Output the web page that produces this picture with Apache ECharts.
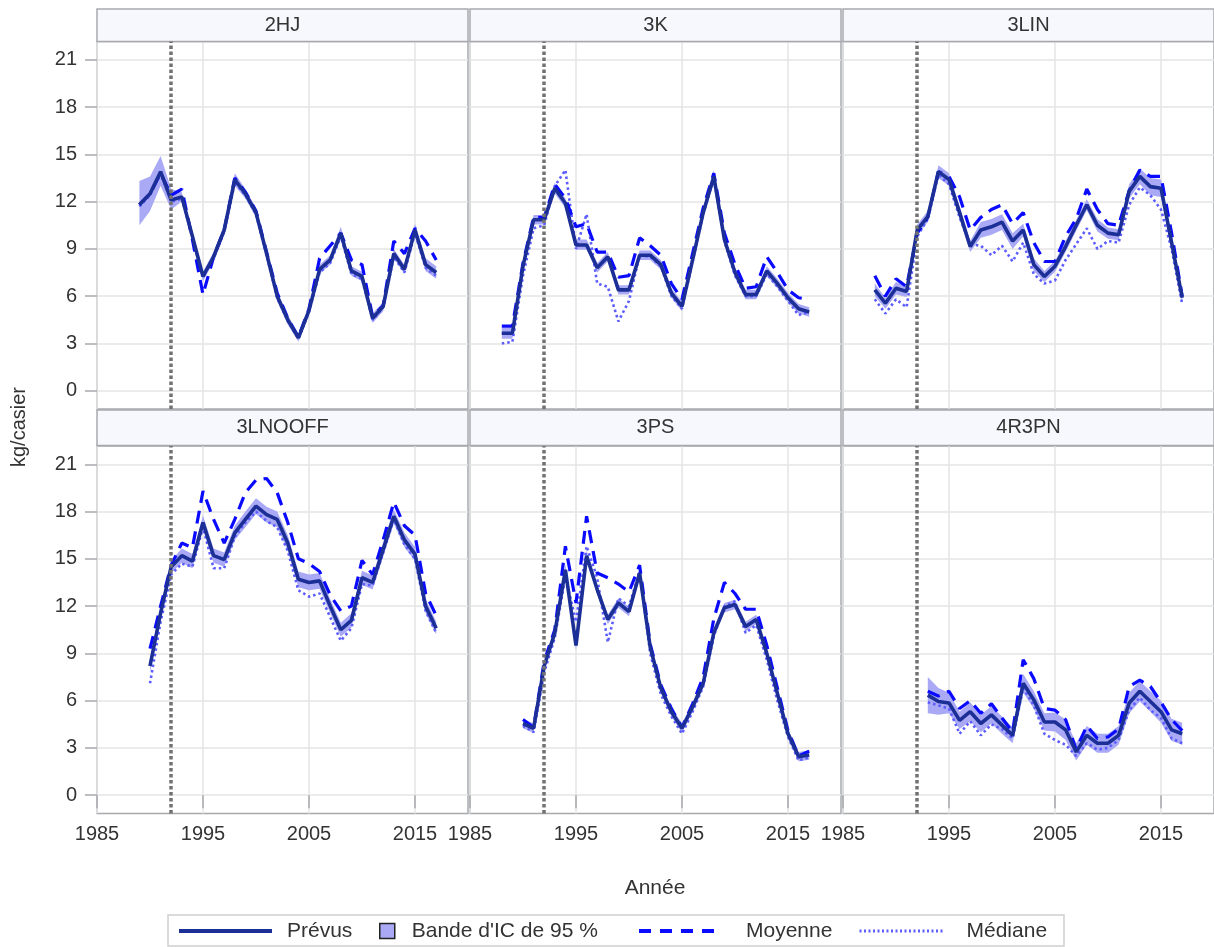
<!DOCTYPE html>
<html>
<head>
<meta charset="utf-8">
<script src="https://cdn.jsdelivr.net/npm/echarts@6/dist/echarts.min.js"></script>
<style>
  html, body { margin: 0; padding: 0; background: #ffffff; }
  #chart { width: 1214px; height: 947px; }
</style>
</head>
<body>
<div id="chart"></div>
<script>
// ---- Data: catch rate (kg/casier) by year, one block per division ----
const panelNames = ['2HJ', '3K', '3LIN', '3LNOOFF', '3PS', '4R3PN'];

const years2HJ = [1989,1990,1991,1992,1993,1994,1995,1996,1997,1998,1999,2000,2001,2002,2003,2004,2005,2006,2007,2008,2009,2010,2011,2012,2013,2014,2015,2016,2017];
const prev2HJ  = [11.8,12.5,13.9,12.1,12.3,9.8,7.25,8.5,10.2,13.4,12.5,11.3,8.7,6.0,4.5,3.35,5.1,7.7,8.3,10.0,7.6,7.25,4.6,5.35,8.7,7.7,10.2,8.0,7.5];
const low2HJ   = [10.5,11.4,13.0,11.5,12.0,9.5,6.95,8.2,9.9,13.0,12.2,11.0,8.4,5.7,4.2,3.1,4.8,7.4,8.0,9.6,7.3,6.95,4.3,5.05,8.4,7.4,9.8,7.6,7.1];
const high2HJ  = [13.3,13.6,14.9,12.8,12.6,10.1,7.55,8.8,10.5,13.8,12.8,11.6,9.0,6.3,4.8,3.6,5.4,8.0,8.6,10.4,7.9,7.55,4.9,5.65,9.0,8.0,10.6,8.4,7.9];
const mean2HJ  = [11.8,12.5,13.8,12.4,12.8,9.6,6.1,8.5,10.2,13.5,12.6,11.4,8.8,6.2,4.6,3.4,5.2,8.4,9.2,10.0,8.3,8.0,4.7,5.4,9.5,8.7,10.3,9.5,8.3];
const med2HJ   = [11.7,12.4,13.8,12.0,12.2,9.7,7.2,8.4,10.1,13.2,12.4,11.2,8.6,5.9,4.4,3.3,5.0,7.5,8.1,9.8,7.4,7.1,4.5,5.3,8.5,7.5,10.0,7.8,7.3];

const years3K = [1988,1989,1990,1991,1992,1993,1994,1995,1996,1997,1998,1999,2000,2001,2002,2003,2004,2005,2006,2007,2008,2009,2010,2011,2012,2013,2014,2015,2016,2017];
const prev3K  = [3.65,3.65,7.9,10.85,10.85,12.85,11.9,9.25,9.25,7.8,8.5,6.4,6.4,8.6,8.6,8.0,6.2,5.35,8.3,11.3,13.6,9.6,7.5,6.1,6.1,7.6,6.8,5.9,5.2,5.0];
const low3K   = [3.3,3.3,7.6,10.55,10.55,12.5,11.6,8.95,8.95,7.5,8.2,6.1,6.1,8.3,8.3,7.7,5.9,5.05,8.0,11.0,13.2,9.3,7.2,5.8,5.8,7.3,6.5,5.6,4.9,4.7];
const high3K  = [4.0,4.0,8.2,11.15,11.15,13.2,12.2,9.6,9.6,8.1,8.8,6.7,6.7,8.9,8.9,8.3,6.5,5.65,8.6,11.6,14.0,9.9,7.8,6.4,6.4,7.9,7.1,6.2,5.5,5.3];
const mean3K  = [4.1,4.1,8.1,11.0,11.0,13.1,12.2,10.4,10.6,8.8,8.8,7.2,7.3,9.7,9.2,8.6,6.8,5.8,8.7,11.6,13.8,10.0,8.0,6.5,6.6,8.5,7.5,6.4,5.9,5.8];
const med3K   = [3.0,3.1,7.3,10.3,10.5,13.0,14.0,9.0,11.2,6.8,6.6,4.4,5.7,8.6,8.5,7.9,6.0,5.2,8.2,11.2,13.5,9.5,7.3,6.0,6.0,7.4,6.6,5.7,4.8,5.0];

const years3LIN = [1988,1989,1990,1991,1992,1993,1994,1995,1996,1997,1998,1999,2000,2001,2002,2003,2004,2005,2006,2007,2008,2009,2010,2011,2012,2013,2014,2015,2016,2017];
const prev3LIN  = [6.4,5.55,6.5,6.3,10.2,11.05,13.9,13.4,11.3,9.15,10.2,10.4,10.7,9.5,10.2,8.0,7.25,7.9,9.15,10.5,11.8,10.5,10.0,9.9,12.65,13.6,12.95,12.85,9.4,5.9];
const low3LIN   = [6.0,5.2,6.1,5.95,9.85,10.7,13.5,13.0,10.9,8.8,9.7,9.9,10.2,9.0,9.8,7.6,6.9,7.55,8.8,10.15,11.45,10.1,9.65,9.55,12.2,13.1,12.4,12.3,9.0,5.55];
const high3LIN  = [6.8,5.9,6.9,6.65,10.55,11.4,14.3,13.8,11.7,9.5,10.7,10.9,11.2,10.0,10.6,8.4,7.6,8.25,9.5,10.85,12.15,10.9,10.35,10.25,13.1,14.1,13.5,13.4,9.8,6.25];
const mean3LIN  = [7.3,6.0,7.1,6.6,10.0,11.0,13.9,13.6,12.3,10.2,11.0,11.5,11.8,10.6,11.3,9.4,8.2,8.2,9.8,10.9,12.8,11.5,10.6,10.5,12.7,14.0,13.6,13.6,10.0,6.0];
const med3LIN   = [5.8,4.9,5.8,5.3,9.8,10.9,13.7,13.1,11.0,9.3,9.2,8.6,9.2,8.2,9.4,7.4,6.8,7.0,8.3,9.3,10.3,9.0,9.5,9.4,11.8,12.9,12.4,11.5,9.0,5.5];

const years3LNOOFF = [1990,1991,1992,1993,1994,1995,1996,1997,1998,1999,2000,2001,2002,2003,2004,2005,2006,2007,2008,2009,2010,2011,2012,2013,2014,2015,2016,2017];
const prev3LNOOFF  = [8.2,11.55,14.5,15.2,14.85,17.3,15.2,14.95,16.65,17.5,18.35,17.8,17.5,16.0,13.7,13.5,13.6,12.0,10.5,11.1,13.8,13.5,15.6,17.7,16.2,15.3,12.0,10.6];
const low3LNOOFF   = [7.8,11.15,14.1,14.75,14.4,16.85,14.75,14.5,16.2,17.0,17.85,17.3,17.0,15.5,13.2,13.0,13.1,11.55,10.05,10.65,13.35,13.05,15.15,17.25,15.75,14.85,11.55,10.2];
const high3LNOOFF  = [8.6,11.95,14.9,15.65,15.3,17.75,15.65,15.4,17.1,18.0,18.85,18.3,18.0,16.5,14.2,14.0,14.1,12.45,10.95,11.55,14.25,13.95,16.05,18.15,16.65,15.75,12.45,11.0];
const mean3LNOOFF  = [9.3,12.0,14.6,16.0,15.7,19.3,17.5,16.0,17.5,19.2,20.0,20.1,19.2,17.3,15.0,14.7,14.2,12.7,11.7,12.0,14.9,14.0,16.2,18.6,17.1,16.5,12.8,11.4];
const med3LNOOFF   = [7.1,11.0,14.0,14.7,14.5,17.0,14.4,14.4,16.4,17.3,18.0,17.4,17.0,15.5,13.0,12.6,12.8,11.3,9.8,10.6,13.4,13.3,15.4,17.5,15.9,15.0,11.7,10.3];

const years3PS = [1990,1991,1992,1993,1994,1995,1996,1997,1998,1999,2000,2001,2002,2003,2004,2005,2006,2007,2008,2009,2010,2011,2012,2013,2014,2015,2016,2017];
const prev3PS  = [4.55,4.25,8.2,10.3,14.3,9.5,15.2,13.05,11.15,12.2,11.65,14.1,9.4,6.8,5.3,4.25,5.6,7.1,10.3,11.9,12.1,10.7,11.15,9.0,6.45,3.9,2.45,2.55];
const low3PS   = [4.25,3.95,7.9,10.0,13.95,9.2,14.85,12.75,10.85,11.9,11.35,13.8,9.1,6.5,5.0,3.95,5.3,6.8,10.0,11.6,11.8,10.4,10.85,8.7,6.15,3.6,2.15,2.25];
const high3PS  = [4.85,4.55,8.5,10.6,14.65,9.8,15.55,13.35,11.45,12.5,11.95,14.4,9.7,7.1,5.6,4.55,5.9,7.4,10.6,12.2,12.4,11.0,11.45,9.3,6.75,4.2,2.75,2.85];
const mean3PS  = [4.8,4.3,8.5,10.5,15.8,12.2,17.7,14.1,13.8,13.4,12.9,14.6,9.6,7.0,5.5,4.3,5.8,7.5,11.2,13.5,12.8,11.8,11.8,9.5,6.8,4.1,2.5,2.8];
const med3PS   = [4.4,4.0,7.8,10.0,13.9,11.0,15.8,13.8,9.7,12.5,12.0,14.2,9.0,6.4,5.0,3.9,5.3,6.9,10.1,12.0,12.3,10.3,10.8,8.6,6.0,3.7,2.2,2.4];

const years4R3PN = [1993,1994,1995,1996,1997,1998,1999,2000,2001,2002,2003,2004,2005,2006,2007,2008,2009,2010,2011,2012,2013,2014,2015,2016,2017];
const prev4R3PN  = [6.35,5.95,5.85,4.75,5.3,4.55,5.1,4.45,3.8,7.1,6.05,4.65,4.65,4.15,2.75,3.8,3.3,3.3,3.8,5.85,6.6,5.95,5.3,4.15,3.9];
const low4R3PN   = [5.2,5.1,5.2,4.2,4.7,4.0,4.55,3.9,3.3,6.5,5.5,4.1,4.05,3.5,2.2,3.2,2.7,2.7,3.2,5.2,5.95,5.3,4.6,3.45,3.2];
const high4R3PN  = [7.5,6.8,6.5,5.3,5.9,5.1,5.65,5.0,4.3,7.7,6.6,5.2,5.25,4.8,3.3,4.4,3.9,3.9,4.4,6.5,7.25,6.6,6.0,4.85,4.6];
const mean4R3PN  = [6.6,6.3,6.6,5.5,6.0,5.2,5.8,4.9,4.0,8.6,7.4,5.5,5.4,4.8,2.9,4.4,3.6,3.7,4.2,6.9,7.3,6.9,5.9,4.8,4.1];
const med4R3PN   = [5.9,5.7,5.5,3.9,4.7,3.8,4.5,4.2,3.6,6.8,5.7,3.9,3.5,3.2,2.5,3.3,2.9,3.0,3.5,5.4,6.2,5.4,4.9,3.6,3.3];

// Axis ticks and reference year
const xTickValues = [1985, 1995, 2005, 2015];
const yTickValues = [0, 3, 6, 9, 12, 15, 18, 21];
const referenceYear = 1992;

// Legend / axis texts
const NAME_PRED = 'Prévus';
const NAME_BAND = "Bande d'IC de 95 %";
const NAME_MEAN = 'Moyenne';
const NAME_MED  = 'Médiane';
const X_TITLE = 'Année';
const Y_TITLE = 'kg/casier';

const panels = [
  { years: years2HJ,     prev: prev2HJ,     low: low2HJ,     high: high2HJ,     mean: mean2HJ,     med: med2HJ },
  { years: years3K,      prev: prev3K,      low: low3K,      high: high3K,      mean: mean3K,      med: med3K },
  { years: years3LIN,    prev: prev3LIN,    low: low3LIN,    high: high3LIN,    mean: mean3LIN,    med: med3LIN },
  { years: years3LNOOFF, prev: prev3LNOOFF, low: low3LNOOFF, high: high3LNOOFF, mean: mean3LNOOFF, med: med3LNOOFF },
  { years: years3PS,     prev: prev3PS,     low: low3PS,     high: high3PS,     mean: mean3PS,     med: med3PS },
  { years: years4R3PN,   prev: prev4R3PN,   low: low4R3PN,   high: high4R3PN,   mean: mean4R3PN,   med: med4R3PN }
];

// ---- Layout ----
const FONT = '"Liberation Sans", Arial, Helvetica, sans-serif';
const TEXT_COLOR = '#333333';
const COL_LEFT = [97, 470, 843];
const COL_W = 371;
const ROW_TOP = [41.5, 446];
const ROW_H = 367.5;
const HEAD_TOP = [9, 410];
const HEAD_H = [32.5, 35.5];
const Y_MIN = -1.16, Y_MAX = 22.16;
const X_MIN = 1985, X_MAX = 2020;

const COLOR_PRED = '#1c2f96';
const COLOR_BAND = '#a9a9f5';
const COLOR_MEAN = '#0a0aff';
const COLOR_MED  = '#5c5cff';
const BORDER = '#a7a9ad';
const GRIDLINE = '#e4e4e4';

const pairs = (xs, ys) => xs.map((x, k) => [x, ys[k]]);
const yearLabel = (v) => String(v);

const grids = [], xAxes = [], yAxes = [], series = [], graphics = [];

panels.forEach((p, i) => {
  const col = i % 3, row = Math.floor(i / 3);
  grids.push({
    left: COL_LEFT[col], top: ROW_TOP[row], width: COL_W, height: ROW_H,
    show: true, borderColor: BORDER, borderWidth: 1.5, backgroundColor: '#ffffff'
  });
  xAxes.push({
    type: 'value', gridIndex: i, min: X_MIN, max: X_MAX, interval: 10,
    axisLine: { show: false },
    axisTick: { show: row === 1, customValues: xTickValues, length: 13, lineStyle: { color: BORDER, width: 1.5 } },
    axisLabel: { show: row === 1, customValues: xTickValues, formatter: yearLabel, margin: 11, color: TEXT_COLOR, fontFamily: FONT, fontSize: 20 },
    splitLine: { show: true, lineStyle: { color: GRIDLINE, width: 1.5 } }
  });
  yAxes.push({
    type: 'value', gridIndex: i, min: Y_MIN, max: Y_MAX,
    axisLine: { show: false },
    axisTick: { show: col === 0, customValues: yTickValues, length: 12, lineStyle: { color: BORDER, width: 1.5 } },
    axisLabel: { show: col === 0, customValues: yTickValues, margin: 20, color: TEXT_COLOR, fontFamily: FONT, fontSize: 20 },
    splitLine: { show: true, lineStyle: { color: GRIDLINE, width: 1.5 } }
  });

  const common = { xAxisIndex: i, yAxisIndex: i, symbol: 'none', showSymbol: false, silent: true, animation: false };

  // 95% confidence band as one polygon: upper bound forward, lower bound back
  series.push({
    type: 'custom', name: NAME_BAND, xAxisIndex: i, yAxisIndex: i, z: 2, silent: true, animation: false,
    itemStyle: { color: COLOR_BAND },
    data: p.years.map((x, k) => [x, p.low[k], p.high[k]]),
    encode: { x: 0, y: [1, 2] },
    renderItem: (params, api) => {
      if (params.dataIndexInside !== 0) return null;
      const upper = p.years.map((x, k) => api.coord([x, p.high[k]]));
      const lower = p.years.map((x, k) => api.coord([x, p.low[k]])).reverse();
      return { type: 'polygon', shape: { points: upper.concat(lower) }, style: { fill: COLOR_BAND } };
    }
  });
  series.push(Object.assign({}, common, {
    type: 'line', name: NAME_MED, z: 3, data: pairs(p.years, p.med),
    itemStyle: { color: COLOR_MED },
    lineStyle: { color: COLOR_MED, width: 2.6, type: [2.5, 3] }
  }));
  series.push(Object.assign({}, common, {
    type: 'line', name: NAME_MEAN, z: 4, data: pairs(p.years, p.mean),
    itemStyle: { color: COLOR_MEAN },
    lineStyle: { color: COLOR_MEAN, width: 3.2, type: [13, 8] }
  }));
  series.push(Object.assign({}, common, {
    type: 'line', name: NAME_PRED, z: 5, data: pairs(p.years, p.prev),
    itemStyle: { color: COLOR_PRED },
    lineStyle: { color: COLOR_PRED, width: 3.6 },
    markLine: {
      silent: true, symbol: ['none', 'none'], z: 10, animation: false,
      label: { show: false },
      lineStyle: { color: '#727272', width: 3.5, type: [3.5, 2.5] },
      data: [{ xAxis: referenceYear }]
    }
  }));

  // panel header strip
  graphics.push({
    type: 'rect', silent: true, z: 10,
    shape: { x: COL_LEFT[col], y: HEAD_TOP[row], width: COL_W, height: HEAD_H[row] },
    style: { fill: '#f6f8fd', stroke: BORDER, lineWidth: 1.5 }
  });
  graphics.push({
    type: 'text', silent: true, z: 11,
    x: COL_LEFT[col] + COL_W / 2, y: HEAD_TOP[row] + HEAD_H[row] / 2,
    style: { text: panelNames[i], fill: TEXT_COLOR, font: '20px ' + FONT, align: 'center', verticalAlign: 'middle' }
  });
});

// axis titles
graphics.push({
  type: 'text', silent: true, x: 19, y: 427, rotation: Math.PI / 2,
  style: { text: Y_TITLE, fill: TEXT_COLOR, font: '20px ' + FONT, align: 'center', verticalAlign: 'middle' }
});
graphics.push({
  type: 'text', silent: true, x: 655, y: 888,
  style: { text: X_TITLE, fill: TEXT_COLOR, font: '21px ' + FONT, align: 'center', verticalAlign: 'middle' }
});
// legend frame
graphics.push({
  type: 'rect', silent: true,
  shape: { x: 168, y: 915, width: 896, height: 31 },
  style: { fill: 'none', stroke: '#cfcfcf', lineWidth: 1.5 }
});

const legendText = (padLeft) => ({ color: TEXT_COLOR, fontFamily: FONT, fontSize: 21, lineHeight: 24, padding: [0, 0, 0, padLeft] });
const hiddenMarker = { opacity: 0 };
const legends = [
  { left: 177, itemWidth: 93, itemHeight: 14, textStyle: legendText(10),
    data: [{ name: NAME_PRED, itemStyle: hiddenMarker, lineStyle: { width: 4 } }] },
  { left: 379, itemWidth: 15, itemHeight: 15, textStyle: legendText(12),
    data: [{ name: NAME_BAND, icon: 'rect', itemStyle: { color: COLOR_BAND, borderColor: '#222222', borderWidth: 1.5 } }] },
  { left: 637, itemWidth: 78, itemHeight: 14, textStyle: legendText(24),
    data: [{ name: NAME_MEAN, itemStyle: hiddenMarker, lineStyle: { width: 4, type: [12, 9] } }] },
  { left: 858, itemWidth: 85, itemHeight: 14, textStyle: legendText(17),
    data: [{ name: NAME_MED, itemStyle: hiddenMarker, lineStyle: { width: 3, type: [2, 2.5] } }] }
].map(l => Object.assign({ top: 919, padding: 0, selectedMode: false, orient: 'horizontal' }, l));

const chart = echarts.init(document.getElementById('chart'), null, { renderer: 'canvas' });
chart.setOption({
  animation: false,
  backgroundColor: '#ffffff',
  textStyle: { fontFamily: FONT },
  grid: grids,
  xAxis: xAxes,
  yAxis: yAxes,
  legend: legends,
  series: series,
  graphic: graphics
});
</script>
</body>
</html>
